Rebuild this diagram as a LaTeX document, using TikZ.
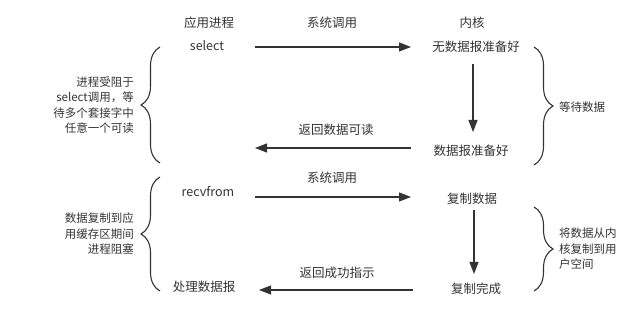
\documentclass[tikz,border=0pt]{standalone}
\usepackage{fontspec}
\setmainfont{Noto Sans CJK SC}
\usetikzlibrary{arrows.meta,decorations.pathreplacing}
\definecolor{ink}{HTML}{333333}
\begin{document}
\begin{tikzpicture}[x=1pt,y=-1pt,
  lbl/.style={text=ink,font=\fontsize{12.5}{15}\selectfont,inner sep=0pt},
  side/.style={text=ink,font=\fontsize{11.5}{15.5}\selectfont,inner sep=0pt,align=#1},
  conn/.style={draw=ink,line width=1.2pt,-{Triangle[length=12pt,width=9pt]}},
  bracestyle/.style={draw=ink,line width=1.1pt,decorate,decoration={brace,amplitude=19pt}}]
\useasboundingbox (0,0) rectangle (636,328);
% headings
\node[lbl] (app) at (209,23) {应用进程};
\node[lbl] (sys1) at (332,23) {系统调用};
\node[lbl] (kern) at (472,23) {内核};
% upper half
\node[lbl] (select) at (207,46) {select};
\node[lbl] (nodata) at (476,47) {无数据报准备好};
\node[lbl] (ready) at (471,151) {数据报准备好};
\node[lbl] (ret1) at (336,130) {返回数据可读};
\coordinate (a1s) at (255,47);
\coordinate (a1e) at (411,47);
\coordinate (d1s) at (473,64);
\coordinate (d1e) at (473,132);
\coordinate (b1s) at (411,148);
\coordinate (b1e) at (255,148);
\draw[conn] (a1s) -- (a1e);
\draw[conn] (d1s) -- (d1e);
\draw[conn] (b1s) -- (b1e);
% lower half
\node[lbl] (recv) at (208,192) {recvfrom};
\node[lbl] (sys2) at (332,178) {系统调用};
\node[lbl] (copy) at (472,199) {复制数据};
\node[lbl] (done) at (476,289) {复制完成};
\node[lbl] (ret2) at (337,273) {返回成功指示};
\node[lbl] (proc) at (204,287) {处理数据报};
\coordinate (a2s) at (255,197);
\coordinate (a2e) at (411,197);
\coordinate (d2s) at (474,210);
\coordinate (d2e) at (474,274);
\coordinate (b2s) at (413,290);
\coordinate (b2e) at (259,290);
\draw[conn] (a2s) -- (a2e);
\draw[conn] (d2s) -- (d2e);
\draw[conn] (b2s) -- (b2e);
% braces
\coordinate (lb1t) at (160,47);
\coordinate (lb1b) at (160,163);
\coordinate (rb1t) at (534,47);
\coordinate (rb1b) at (534,165);
\coordinate (lb2t) at (160,177);
\coordinate (lb2b) at (160,291);
\coordinate (rb2t) at (534,207);
\coordinate (rb2b) at (534,291);
\draw[bracestyle] (lb1b) -- (lb1t);
\draw[bracestyle] (rb1t) -- (rb1b);
\draw[bracestyle] (lb2b) -- (lb2t);
\draw[bracestyle] (rb2t) -- (rb2b);
% side texts
\node[side=right,anchor=east] (lt1) at (134,105) {进程受阻于\\select调用，等\\待多个套接字中\\任意一个可读};
\node[side=left,anchor=west] (rt1) at (559,107) {等待数据};
\node[side=right,anchor=east] (lt2) at (134,234) {数据复制到应\\用缓存区期间\\进程阻塞};
\node[side=left,anchor=west] (rt2) at (559,249) {将数据从内\\核复制到用\\户空间};
\end{tikzpicture}
\end{document}
